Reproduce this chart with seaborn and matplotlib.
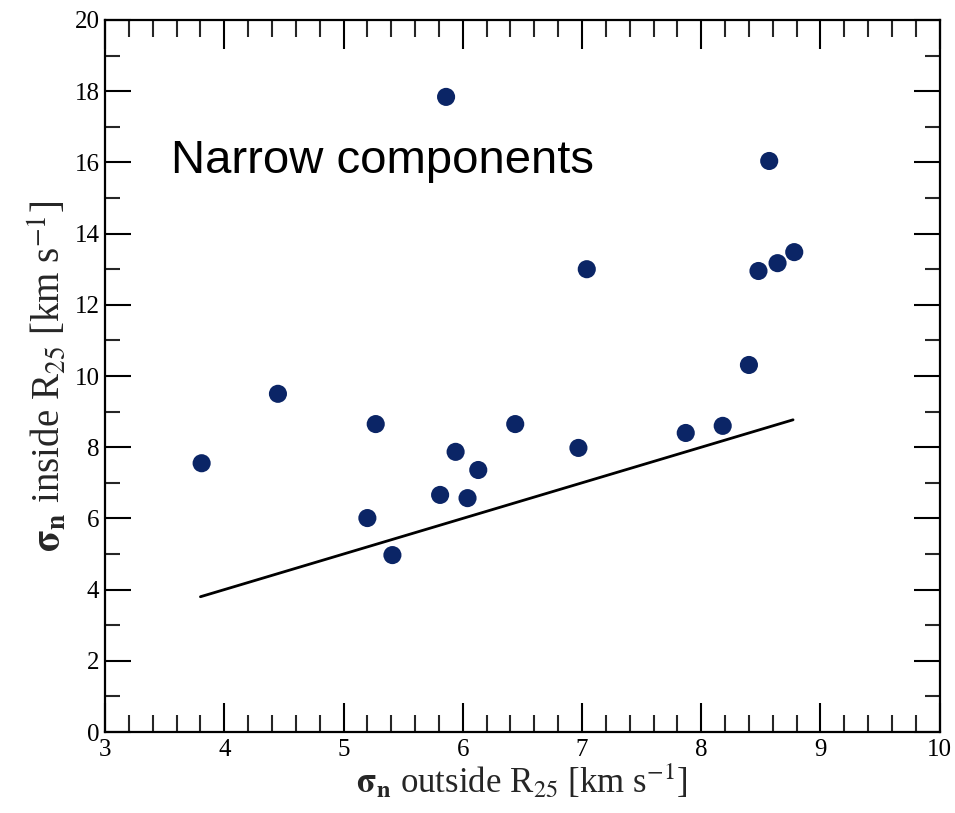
import matplotlib
matplotlib.use("Agg")
import matplotlib.pyplot as plt
import seaborn as sns
import pandas as pd
from matplotlib.ticker import MultipleLocator

# Velocity dispersion of narrow components, outside vs inside R25 (km/s)
sigma_outside = [3.81, 4.45, 5.27, 5.94, 5.81, 6.04, 5.20, 5.41, 6.13, 6.44,
                 6.97, 7.87, 8.18, 8.40, 8.48, 8.64, 8.78, 8.57, 5.86, 7.04]
sigma_inside = [7.55, 9.50, 8.65, 7.87, 6.66, 6.57, 6.01, 4.97, 7.36, 8.65,
                7.98, 8.40, 8.60, 10.31, 12.95, 13.17, 13.48, 16.04, 17.84, 13.00]

# Extent of the one-to-one reference line
one_to_one = [3.80, 8.77]

x_ticks = [3, 4, 5, 6, 7, 8, 9, 10]
y_ticks = [0, 2, 4, 6, 8, 10, 12, 14, 16, 18, 20]

sns.set_theme(style="ticks")
plt.rcParams["font.family"] = ["Liberation Serif", "DejaVu Serif"]
plt.rcParams["mathtext.fontset"] = "stix"

points = pd.DataFrame({"outside": sigma_outside, "inside": sigma_inside})
line = pd.DataFrame({"outside": one_to_one, "inside": one_to_one})

fig = plt.figure(figsize=(9.55, 8.13), dpi=100)
ax = fig.add_axes([0.110, 0.0996, 0.874, 0.8758])

sns.lineplot(data=line, x="outside", y="inside", ax=ax, color="black",
             linewidth=2.0, zorder=2)
sns.scatterplot(data=points, x="outside", y="inside", ax=ax, s=170,
                color="#0b2566", edgecolor="none", zorder=3)

ax.set_xlim(3, 10)
ax.set_ylim(0, 20)
ax.set_xticks(x_ticks)
ax.set_yticks(y_ticks)
ax.xaxis.set_minor_locator(MultipleLocator(0.2))
ax.yaxis.set_minor_locator(MultipleLocator(1))

for side in ax.spines.values():
    side.set_visible(True)
    side.set_linewidth(1.6)
    side.set_color("black")

ax.tick_params(axis="x", which="major", direction="in", length=21, width=1.5,
               top=True, bottom=True, labelsize=18, pad=5, colors="black")
ax.tick_params(axis="x", which="minor", direction="in", length=12, width=1.5,
               top=True, bottom=True)
ax.tick_params(axis="y", which="major", direction="in", length=19, width=1.5,
               left=True, right=True, labelsize=18, pad=4, colors="black")
ax.tick_params(axis="y", which="minor", direction="in", length=10.5, width=1.5,
               left=True, right=True)

ax.set_xlabel(r"$\mathbf{\sigma_{n}}$ outside R$_{25}$ [km s$^{-1}$]",
              fontsize=25, labelpad=1)
ax.set_ylabel(r"$\mathbf{\sigma_{n}}$ inside R$_{25}$ [km s$^{-1}$]",
              fontsize=28, labelpad=4)

ax.text(3.55, 16.05, "Narrow components", fontsize=34,
        family=["Liberation Sans", "DejaVu Sans"], va="center", ha="left",
        color="black")

fig.savefig("out.png", dpi=100)
